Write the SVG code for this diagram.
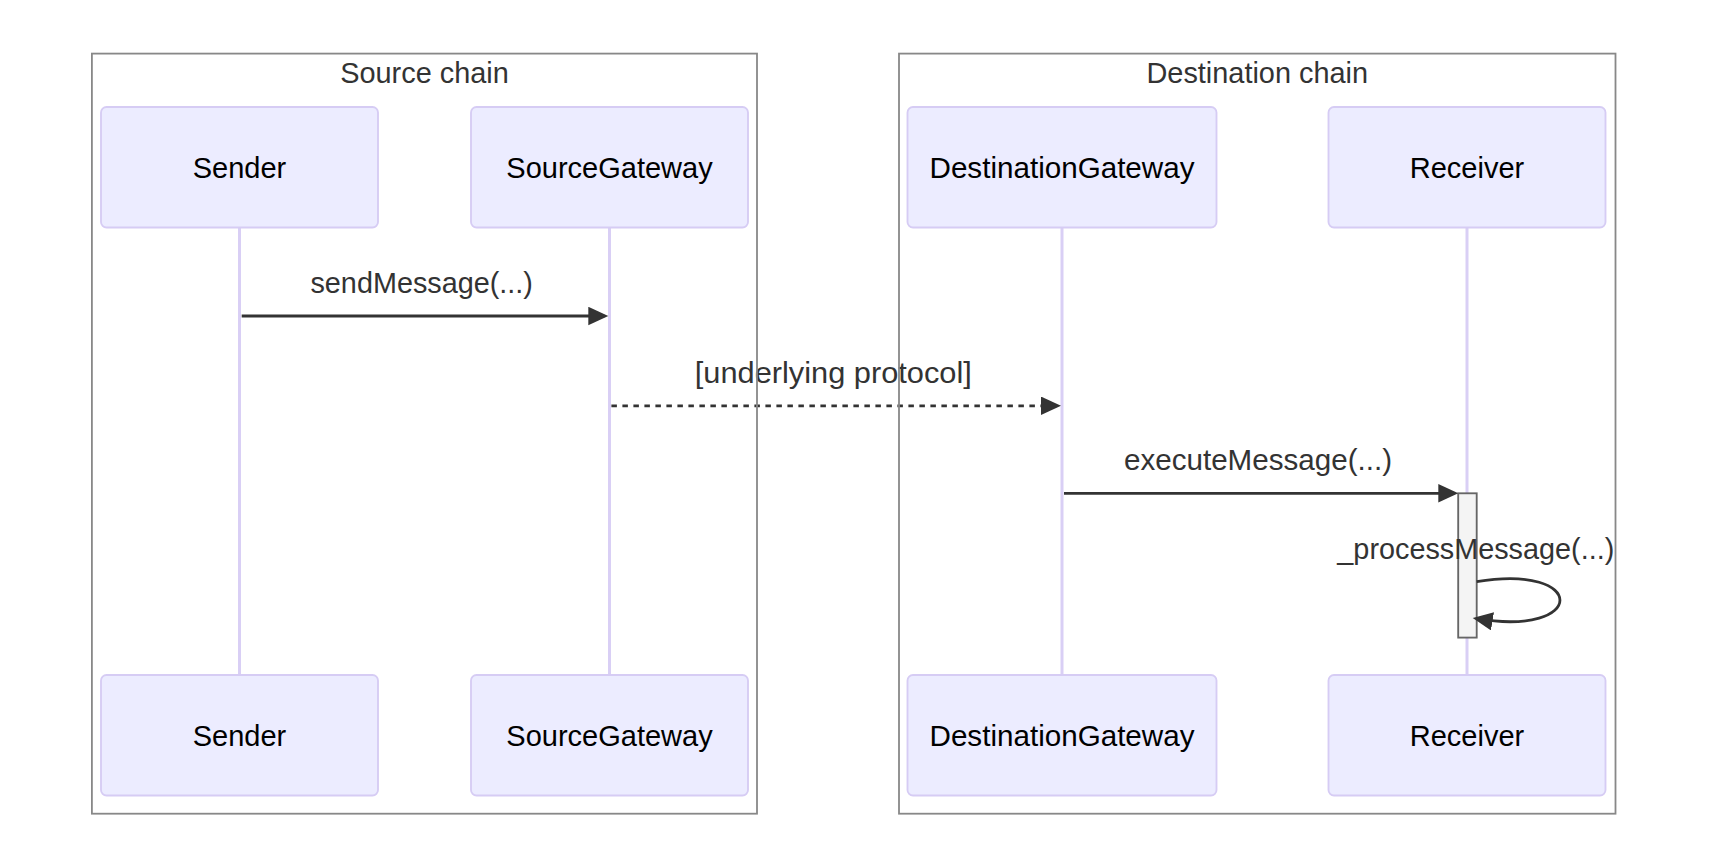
<svg xmlns="http://www.w3.org/2000/svg" width="1715" height="868" viewBox="0 0 1715 868">
<style>
.bg{fill:#ffffff}
.group{fill:none;stroke:#888888;stroke-width:1.8}
.glabel{font-family:"Trebuchet MS","Liberation Sans",Arial,sans-serif;font-size:28.9px;fill:#333333;text-anchor:middle}
.actor{fill:#ECECFF;stroke:#d6ccf4;stroke-width:1.85}
.atext{font-family:"Trebuchet MS","Liberation Sans",Arial,sans-serif;font-size:29px;fill:#000000;text-anchor:middle}
.life{stroke:#d9cff5;stroke-width:3;fill:none}
.msg{stroke:#333333;stroke-width:2.8;fill:none}
.dash{stroke-dasharray:5.5,5.5}
.mtext{font-family:"Trebuchet MS","Liberation Sans",Arial,sans-serif;font-size:28.8px;fill:#333333;text-anchor:middle}
.act{fill:#f4f4f4;stroke:#666666;stroke-width:1.85}
</style>
<defs>
<marker id="arrow" markerUnits="userSpaceOnUse" markerWidth="22" markerHeight="20" refX="16" refY="9.25" orient="auto">
<path d="M0,0 L20,9.25 L0,18.5 z" fill="#333333"/>
</marker>
</defs>
<rect class="bg" x="0" y="0" width="1715" height="868"/>
<g id="lifelines">
<line class="life" x1="239.5" y1="227.5" x2="239.5" y2="675"/>
<line class="life" x1="609.5" y1="227.5" x2="609.5" y2="675"/>
<line class="life" x1="1062" y1="227.5" x2="1062" y2="675"/>
<line class="life" x1="1467" y1="227.5" x2="1467" y2="675"/>
</g>
<g id="actor-sender-top"><rect class="actor" x="101" y="107" width="277" height="120.5" rx="5.5"/><text class="atext" x="239.5" y="178.3">Sender</text></g>
<g id="actor-sourcegateway-top"><rect class="actor" x="471" y="107" width="277" height="120.5" rx="5.5"/><text class="atext" x="609.5" y="178.3">SourceGateway</text></g>
<g id="actor-destinationgateway-top"><rect class="actor" x="907.5" y="107" width="309" height="120.5" rx="5.5"/><text class="atext" x="1062" y="178.3" textLength="265" lengthAdjust="spacingAndGlyphs">DestinationGateway</text></g>
<g id="actor-receiver-top"><rect class="actor" x="1328.5" y="107" width="277" height="120.5" rx="5.5"/><text class="atext" x="1467" y="178.3">Receiver</text></g>
<g id="actor-sender-bottom"><rect class="actor" x="101" y="675" width="277" height="120.5" rx="5.5"/><text class="atext" x="239.5" y="746">Sender</text></g>
<g id="actor-sourcegateway-bottom"><rect class="actor" x="471" y="675" width="277" height="120.5" rx="5.5"/><text class="atext" x="609.5" y="746">SourceGateway</text></g>
<g id="actor-destinationgateway-bottom"><rect class="actor" x="907.5" y="675" width="309" height="120.5" rx="5.5"/><text class="atext" x="1062" y="746" textLength="265" lengthAdjust="spacingAndGlyphs">DestinationGateway</text></g>
<g id="actor-receiver-bottom"><rect class="actor" x="1328.5" y="675" width="277" height="120.5" rx="5.5"/><text class="atext" x="1467" y="746">Receiver</text></g>
<g id="activation-receiver"><rect class="act" x="1458.2" y="493.3" width="18.5" height="144.3"/></g>
<g id="connectors">
<line class="msg" x1="241.7" y1="316" x2="604.3" y2="316" marker-end="url(#arrow)"/>
<text class="mtext" x="421.7" y="293">sendMessage(...)</text>
<line class="msg dash" x1="611.4" y1="405.8" x2="1057" y2="405.8" marker-end="url(#arrow)"/>
<text class="mtext" x="833.3" y="382.5" textLength="277" lengthAdjust="spacingAndGlyphs">[underlying protocol]</text>
<line class="msg" x1="1064" y1="493.3" x2="1454.3" y2="493.3" marker-end="url(#arrow)"/>
<text class="mtext" x="1258" y="470" textLength="268" lengthAdjust="spacingAndGlyphs">executeMessage(...)</text>
<path class="msg" d="M1476.7,581.7 C1587.7,563.2 1587.7,637.2 1476.7,618.7" marker-end="url(#arrow)"/>
<text class="mtext" x="1475.8" y="559">_processMessage(...)</text>
</g>
<g id="box-source-chain"><rect class="group" x="91.9" y="53.6" width="665.1" height="760.1"/><text class="glabel" x="424.5" y="83">Source chain</text></g>
<g id="box-destination-chain"><rect class="group" x="899" y="53.6" width="716.5" height="760.1"/><text class="glabel" x="1257.3" y="83">Destination chain</text></g>
</svg>
